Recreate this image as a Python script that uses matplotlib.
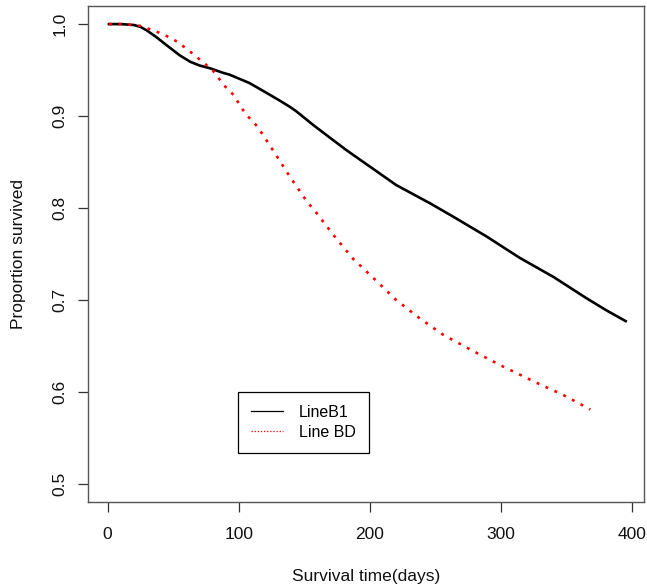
import matplotlib
matplotlib.use("Agg")
import matplotlib.pyplot as plt
from matplotlib.lines import Line2D

plt.rcParams['font.family'] = ['Liberation Sans', 'DejaVu Sans']

# Line B1 (black, solid)
b1_time = [1, 10, 20, 25, 30, 37, 45, 55, 63, 70, 78, 88, 93, 98, 108, 119, 131, 139,
           144, 157, 169, 182, 195, 207, 220, 233, 246, 263, 289, 314, 340, 365, 380, 395]
b1_surv = [1.0, 1.0, 0.999, 0.997, 0.993, 0.986, 0.977, 0.966, 0.959, 0.955, 0.952, 0.947,
           0.945, 0.942, 0.936, 0.927, 0.917, 0.910, 0.905, 0.890, 0.877, 0.863, 0.850,
           0.838, 0.825, 0.815, 0.805, 0.791, 0.769, 0.746, 0.725, 0.702, 0.689, 0.677]

# Line BD (red, dotted)
bd_time = [1, 10, 20, 25, 37, 45, 53, 63, 74, 80, 89, 96, 103, 108, 114, 126, 139, 152,
           158, 172, 187, 204, 220, 238, 256, 282, 301, 327, 347, 368]
bd_surv = [1.0, 1.0, 0.999, 0.998, 0.992, 0.987, 0.981, 0.970, 0.957, 0.950, 0.933, 0.923,
           0.907, 0.898, 0.889, 0.863, 0.834, 0.807, 0.797, 0.771, 0.745, 0.722, 0.700,
           0.680, 0.662, 0.642, 0.628, 0.610, 0.597, 0.581]

x_ticks = [0, 100, 200, 300, 400]
y_ticks = [0.5, 0.6, 0.7, 0.8, 0.9, 1.0]
y_tick_labels = ["0.5", "0.6", "0.7", "0.8", "0.9", "1.0"]
legend_labels = ["LineB1", "Line BD"]

fig = plt.figure(figsize=(6.47, 5.86), dpi=100)
ax = fig.add_axes([87.7 / 647, 1 - 502.3 / 586, (644.3 - 87.7) / 647, (502.3 - 5.7) / 586])

ax.plot(b1_time, b1_surv, color='black', lw=1.9, solid_joinstyle='round')
ax.plot(bd_time, bd_surv, color='#ff0000', lw=1.9, linestyle=(0, (1.1, 2.6)),
        dash_capstyle='butt')

ax.set_xlim(-15.2, 409.2)
ax.set_ylim(0.48, 1.02)
ax.set_xticks(x_ticks)
ax.set_xticklabels([str(v) for v in x_ticks])
ax.set_yticks(y_ticks)
ax.set_yticklabels(y_tick_labels, rotation=90, va='center')

for s in ax.spines.values():
    s.set_color('#555555')
    s.set_linewidth(1.0)
ax.tick_params(axis='both', length=7.5, width=0.9, color='#333333', labelsize=12.5,
               labelcolor='#111111')
ax.tick_params(axis='x', pad=10)
ax.tick_params(axis='y', pad=7)

ax.set_xlabel("Survival time(days)", fontsize=12.5, labelpad=20, color='#111111')
ax.set_ylabel("Proportion survived", fontsize=12.5, labelpad=19, color='#111111')

handles = [Line2D([], [], color='black', lw=0.9),
           Line2D([], [], color='#ff0000', lw=0.9, linestyle=(0, (1, 1.5)))]
leg = ax.legend(handles, legend_labels, loc='upper left',
                bbox_to_anchor=((238.3 - 87.7) / 556.6, (502.3 - 392.3) / 496.6),
                borderaxespad=0, fancybox=False, frameon=True, fontsize=11.5,
                handlelength=2.0, handletextpad=1.0, labelspacing=0.3,
                borderpad=0.8)
leg.get_frame().set_edgecolor('black')
leg.get_frame().set_linewidth(0.9)
leg.get_frame().set_alpha(None)

fig.savefig("out.png", dpi=100)
